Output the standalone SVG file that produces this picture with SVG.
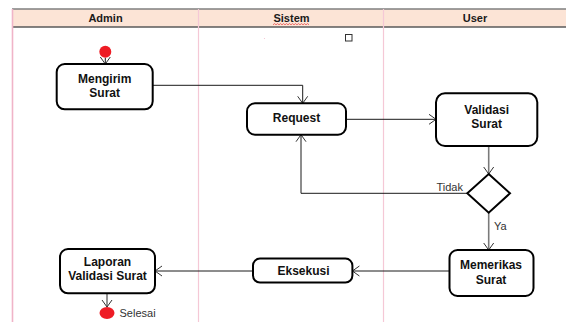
<svg xmlns="http://www.w3.org/2000/svg" width="566" height="322" viewBox="0 0 566 322">
<defs>
<style>
.lane{stroke:#f5c8d6;stroke-width:1.2;fill:none}
.hdr{font-family:"Liberation Sans",Arial,sans-serif;font-weight:bold;font-size:11px;fill:#1a1a1a;text-anchor:middle}
.box{fill:#fff;stroke:#000;stroke-width:2}
.lbl{font-family:"Liberation Sans",Arial,sans-serif;font-weight:bold;font-size:12px;fill:#111;text-anchor:middle}
.con{fill:none;stroke:#1a1a1a;stroke-width:1;marker-end:url(#arr)}
.cong{fill:none;stroke:#7a7a7a;stroke-width:1.6;marker-end:url(#arr)}
.note{font-family:"Liberation Sans",Arial,sans-serif;font-size:11px;fill:#333}
.dot{fill:#ee1c25}
</style>
<marker id="arr" markerUnits="userSpaceOnUse" markerWidth="14" markerHeight="14" refX="8" refY="6" orient="auto">
<path d="M1,1 L8,6 L1,11" fill="none" stroke="#333" stroke-width="1"/>
</marker>
</defs>
<g id="swimlanes">
<rect x="12" y="9" width="560" height="18" fill="#fce4d6"/>
<line x1="12" y1="9" x2="566" y2="9" stroke="#7f7f7f" stroke-width="1.6"/>
<line x1="12" y1="27" x2="566" y2="27" stroke="#5a5a5a" stroke-width="1.6"/>
<line class="lane" x1="12.5" y1="9" x2="12.5" y2="322" style="stroke:#f0b4c8;stroke-width:1.6"/>
<line class="lane" x1="198.5" y1="9" x2="198.5" y2="322"/>
<line class="lane" x1="383.5" y1="9" x2="383.5" y2="322"/>
<text class="hdr" x="105.5" y="22">Admin</text>
<text class="hdr" x="291.5" y="22">Sistem</text>
<path d="M273,24.8 l1.5,-1.2 l1.5,1.2 l1.5,-1.2 l1.5,1.2 l1.5,-1.2 l1.5,1.2 l1.5,-1.2 l1.5,1.2 l1.5,-1.2 l1.5,1.2 l1.5,-1.2 l1.5,1.2 l1.5,-1.2 l1.5,1.2 l1.5,-1.2 l1.5,1.2 l1.5,-1.2 l1.5,1.2 l1.5,-1.2 l1.5,1.2 l1.5,-1.2 l1.5,1.2 l1.5,-1.2 l1.5,1.2" fill="none" stroke="#e23a3a" stroke-width="0.7"/>
<text class="hdr" x="475" y="22">User</text>
<rect x="345.5" y="34.5" width="6.5" height="6.5" fill="#fff" stroke="#333" stroke-width="1"/>
<circle cx="264.5" cy="38.5" r="0.6" fill="#f3c0d0"/>
</g>
<g id="connectors">
<path class="con" d="M105.3,57.7 V64"/>
<path class="con" d="M152.7,85.3 H302.7 V103.3"/>
<path class="con" d="M346,119.3 H436"/>
<path class="cong" d="M488.7,146 V174"/>
<path class="con" d="M467.3,193.3 H301 V134.7"/>
<text class="note" x="436.5" y="191">Tidak</text>
<path class="cong" d="M488.7,212.7 V250"/>
<text class="note" x="494" y="229.5">Ya</text>
<path class="con" d="M449.5,271 H352.4"/>
<path class="con" d="M253,271 H155"/>
<path class="cong" d="M107,293 V307"/>
</g>
<g id="start"><circle class="dot" cx="105.3" cy="51.7" r="6"/></g>
<g id="mengirim">
<rect class="box" x="56.7" y="64" width="96" height="45.3" rx="8"/>
<text class="lbl" x="104.7" y="83.3">Mengirim</text>
<text class="lbl" x="104.7" y="97.3">Surat</text>
</g>
<g id="request">
<rect class="box" x="247" y="103.3" width="99" height="31.4" rx="8"/>
<text class="lbl" x="296.5" y="121.7">Request</text>
</g>
<g id="validasi">
<rect class="box" x="436" y="93.3" width="101.3" height="52.7" rx="9"/>
<text class="lbl" x="486.7" y="114.3">Validasi</text>
<text class="lbl" x="486.7" y="128.3">Surat</text>
</g>
<g id="decision">
<polygon points="488.7,174 510,193.3 488.7,212.7 467.3,193.3" fill="#fff" stroke="#000" stroke-width="2"/>
</g>
<g id="memerikas">
<rect class="box" x="449.5" y="250" width="84" height="46" rx="8"/>
<text class="lbl" x="491" y="268.5">Memerikas</text>
<text class="lbl" x="491" y="284.3">Surat</text>
</g>
<g id="eksekusi">
<rect class="box" x="253" y="258.6" width="99.4" height="24" rx="7"/>
<text class="lbl" x="303.5" y="274.7">Eksekusi</text>
</g>
<g id="laporan">
<rect class="box" x="60" y="249" width="95" height="44.3" rx="8"/>
<text class="lbl" x="107.5" y="266.2">Laporan</text>
<text class="lbl" x="107.5" y="279.8">Validasi Surat</text>
</g>
<g id="end">
<ellipse class="dot" cx="107" cy="313" rx="7.5" ry="6"/>
<text class="note" x="119.5" y="317">Selesai</text>
</g>
</svg>
